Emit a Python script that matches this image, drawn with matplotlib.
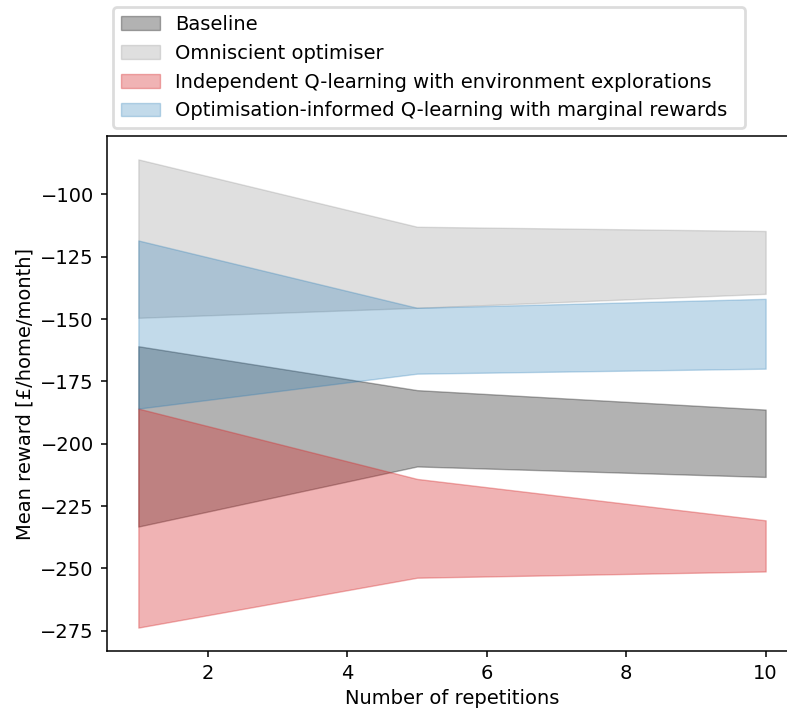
import matplotlib
matplotlib.use("Agg")
import matplotlib.pyplot as plt

repetitions = [1, 5, 10]

baseline_upper = [-160.9, -178.5, -186.3]
baseline_lower = [-233.2, -209.1, -213.3]

omniscient_upper = [-86.0, -113.0, -114.7]
omniscient_lower = [-149.5, -145.5, -139.9]

independent_upper = [-185.9, -214.1, -230.7]
independent_lower = [-273.7, -253.7, -251.2]

informed_upper = [-118.5, -145.5, -141.9]
informed_lower = [-185.9, -171.9, -169.9]

plt.rcParams['font.size'] = 14

fig = plt.figure(figsize=(7.87, 7.11), dpi=100)
# axes runs a bit past the right edge, like the cropped original
ax = fig.add_axes([107 / 787, 60 / 711, 690 / 787, 515 / 711])

ax.fill_between(repetitions, baseline_lower, baseline_upper, color='black', alpha=0.3,
                label='Baseline')
ax.fill_between(repetitions, omniscient_lower, omniscient_upper, color='grey', alpha=0.25,
                label='Omniscient optimiser')
ax.fill_between(repetitions, independent_lower, independent_upper, color='tab:red', alpha=0.35,
                label='Independent Q-learning with environment explorations')
ax.fill_between(repetitions, informed_lower, informed_upper, color='tab:blue', alpha=0.27,
                label='Optimisation-informed Q-learning with marginal rewards')

ax.set_xlabel('Number of repetitions')
ax.set_ylabel('Mean reward [£/home/month]')
ax.tick_params(length=4.5, width=1.1, pad=5)
for s in ax.spines.values():
    s.set_linewidth(1.1)

leg = ax.legend(loc='lower left', mode='expand',
                bbox_to_anchor=(113 / 787, 1 - 128 / 711, 632 / 787, 123 / 711),
                bbox_transform=fig.transFigure, borderaxespad=0)
leg.get_frame().set_linewidth(2)
leg.get_frame().set_edgecolor('0.83')

fig.savefig('out.png', dpi=100)
